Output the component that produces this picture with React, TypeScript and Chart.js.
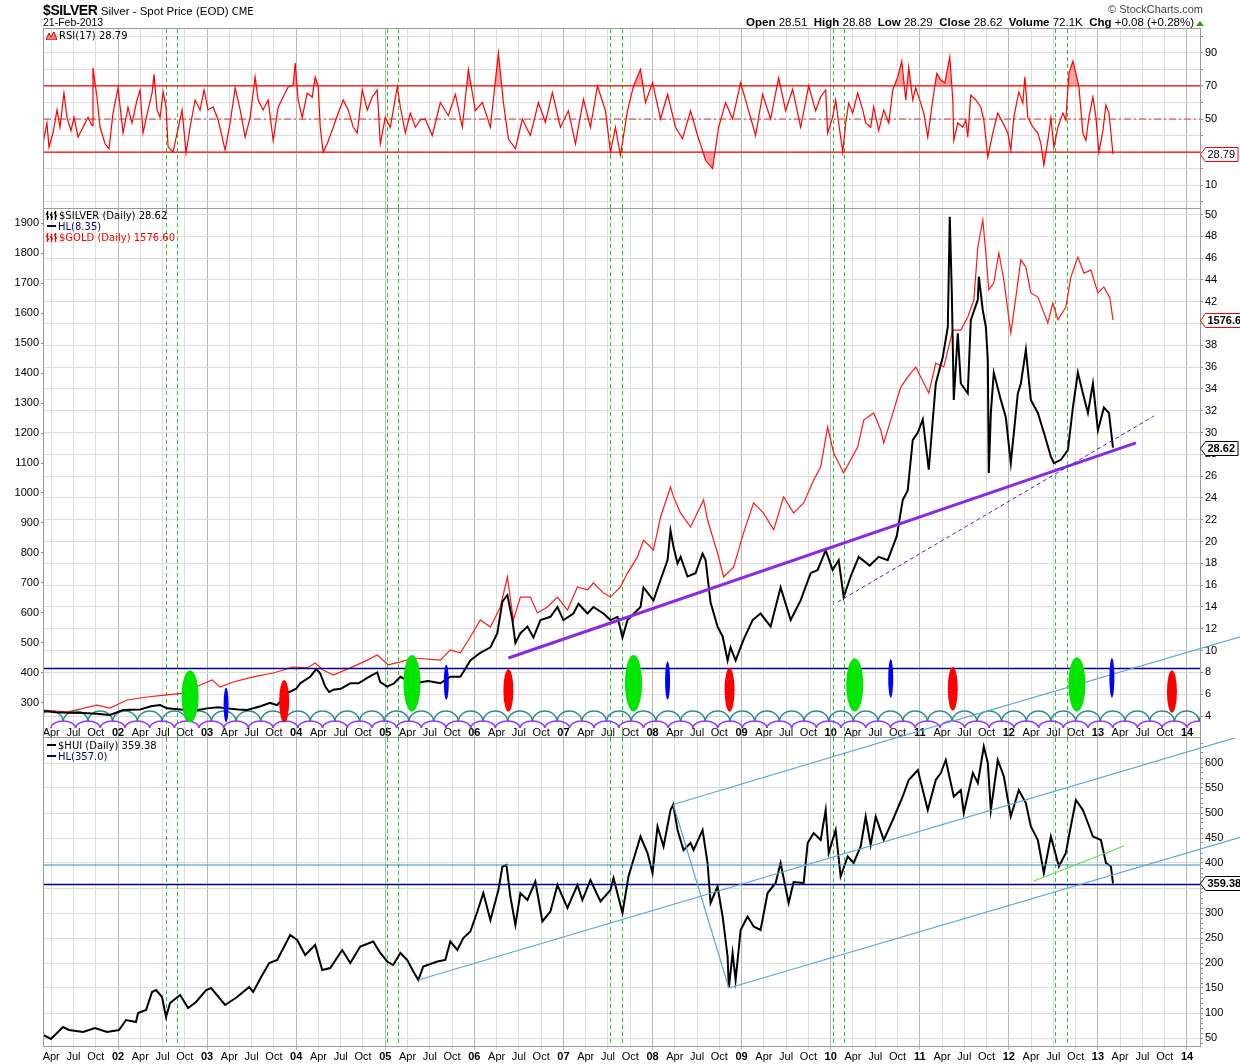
import React, { useEffect, useRef } from 'react';
import { Chart, registerables } from 'chart.js';

Chart.register(...registerables);

type P = [number, number];

// ---------------- axis ranges / tick labels ----------------
const X_MIN = 2001.169;
const X_MAX = 2014.146;
const QUARTER_LABELS = ['', 'Apr', 'Jul', 'Oct'];
const YEAR_LABELS = ['01', '02', '03', '04', '05', '06', '07', '08', '09', '10', '11', '12', '13', '14'];
const RSI_TICKS = [0, 10, 20, 30, 40, 50, 60, 70, 80, 90, 100];
const RSI_LABELS = [10, 30, 50, 70, 90];
const SILVER_TICKS = [4, 6, 8, 10, 12, 14, 16, 18, 20, 22, 24, 26, 28, 30, 32, 34, 36, 38, 40, 42, 44, 46, 48, 50];
const GOLD_TICKS = [300, 400, 500, 600, 700, 800, 900, 1000, 1100, 1200, 1300, 1400, 1500, 1600, 1700, 1800, 1900];
const HUI_LABELS = [50, 100, 150, 200, 250, 300, 350, 400, 450, 500, 550, 600];
const HUI_MINOR = [40, 60, 70, 80, 90, 110, 120, 130, 140, 160, 170, 180, 190, 210, 220, 230, 240, 260, 270, 280, 290, 310, 320, 330, 340, 360, 370, 380, 390, 410, 420, 430, 440, 460, 470, 480, 490, 510, 520, 530, 540, 560, 570, 580, 590, 610, 620, 630, 640];

// ---------------- series (decimal year, value) ----------------
const SILVER: P[] = [
  [2001.157, 4.46], [2001.30, 4.35], [2001.45, 4.30], [2001.607, 4.27], [2001.76, 4.20], [2001.910, 4.10],
  [2002.056, 4.55], [2002.25, 4.60], [2002.37, 4.90], [2002.472, 5.00], [2002.551, 4.70], [2002.70, 4.60],
  [2002.775, 4.55], [2002.90, 4.55], [2003.0, 4.70], [2003.12, 4.80], [2003.225, 4.70], [2003.35, 4.60],
  [2003.449, 4.55], [2003.60, 4.90], [2003.708, 5.20], [2003.787, 5.00], [2003.899, 6.10], [2004.0, 6.50],
  [2004.045, 7.00], [2004.157, 7.60], [2004.225, 8.30], [2004.270, 7.90], [2004.326, 6.70], [2004.37, 6.20],
  [2004.416, 6.40], [2004.50, 6.50], [2004.607, 7.00], [2004.70, 7.00], [2004.798, 7.50], [2004.910, 8.00],
  [2004.944, 7.10], [2005.022, 6.70], [2005.10, 7.00], [2005.169, 7.60], [2005.315, 7.00], [2005.393, 7.10],
  [2005.483, 7.20], [2005.618, 7.00], [2005.730, 7.60], [2005.843, 7.60], [2005.955, 9.10], [2006.067, 9.80],
  [2006.180, 10.30], [2006.258, 11.60], [2006.315, 14.50], [2006.371, 15.10], [2006.427, 12.80], [2006.461, 10.70],
  [2006.517, 11.60], [2006.596, 12.20], [2006.663, 11.20], [2006.742, 12.80], [2006.854, 13.10], [2006.933, 14.00],
  [2007.0, 12.80], [2007.112, 13.40], [2007.169, 14.30], [2007.270, 13.40], [2007.337, 14.00], [2007.449, 13.40],
  [2007.528, 12.80], [2007.607, 13.10], [2007.663, 11.20], [2007.719, 12.80], [2007.865, 14.00], [2007.899, 15.80],
  [2008.011, 14.60], [2008.090, 16.50], [2008.169, 18.30], [2008.202, 21.00], [2008.236, 19.50], [2008.281, 18.00],
  [2008.315, 18.60], [2008.393, 16.80], [2008.483, 17.10], [2008.562, 18.90], [2008.596, 18.30], [2008.652, 14.40],
  [2008.730, 12.20], [2008.787, 11.30], [2008.843, 9.10], [2008.876, 10.30], [2008.933, 9.10], [2009.022, 11.00],
  [2009.124, 12.80], [2009.213, 13.40], [2009.326, 12.20], [2009.438, 15.80], [2009.551, 12.80], [2009.663, 14.60],
  [2009.775, 17.10], [2009.854, 17.40], [2009.944, 19.20], [2010.022, 17.40], [2010.090, 18.30], [2010.146, 14.90],
  [2010.225, 16.80], [2010.315, 18.60], [2010.438, 17.80], [2010.539, 18.60], [2010.640, 18.30], [2010.742, 20.50],
  [2010.809, 23.80], [2010.865, 24.70], [2010.921, 29.30], [2010.978, 30.00], [2011.034, 31.20], [2011.101, 26.60],
  [2011.180, 34.50], [2011.258, 36.90], [2011.315, 39.70], [2011.337, 49.80], [2011.360, 42.80], [2011.382, 33.00],
  [2011.427, 39.10], [2011.461, 34.50], [2011.539, 33.60], [2011.573, 40.30], [2011.652, 42.20], [2011.663, 44.30],
  [2011.708, 41.20], [2011.742, 39.70], [2011.764, 36.70], [2011.775, 26.30], [2011.798, 31.80], [2011.831, 35.50],
  [2011.910, 33.00], [2011.966, 31.40], [2012.022, 27.20], [2012.101, 33.60], [2012.135, 34.50], [2012.191, 37.60],
  [2012.247, 33.00], [2012.326, 31.80], [2012.393, 30.00], [2012.472, 27.80], [2012.506, 27.20], [2012.584, 27.50],
  [2012.663, 28.40], [2012.719, 32.30], [2012.775, 35.50], [2012.831, 33.60], [2012.888, 31.80], [2012.944, 34.50],
  [2013.0, 30.20], [2013.067, 32.30], [2013.124, 31.80], [2013.169, 28.62],
];

const GOLD: P[] = [
  [2001.157, 277], [2001.427, 270], [2001.764, 293], [2001.910, 283], [2002.101, 310], [2002.326, 320],
  [2002.551, 327], [2002.730, 333], [2002.921, 360], [2003.056, 377], [2003.146, 353], [2003.292, 370],
  [2003.517, 387], [2003.742, 400], [2003.966, 420], [2004.124, 417], [2004.213, 433], [2004.303, 410],
  [2004.416, 393], [2004.607, 417], [2004.798, 443], [2004.910, 460], [2005.034, 427], [2005.169, 437],
  [2005.315, 450], [2005.618, 443], [2005.730, 477], [2005.843, 467], [2005.955, 520], [2006.067, 577],
  [2006.180, 553], [2006.292, 620], [2006.371, 720], [2006.438, 577], [2006.517, 653], [2006.629, 653],
  [2006.708, 600], [2006.820, 620], [2006.933, 653], [2007.045, 610], [2007.157, 687], [2007.270, 677],
  [2007.337, 700], [2007.449, 667], [2007.528, 653], [2007.640, 687], [2007.719, 733], [2007.831, 787],
  [2007.899, 843], [2008.011, 810], [2008.090, 920], [2008.202, 1020], [2008.236, 987], [2008.315, 933],
  [2008.427, 887], [2008.573, 977], [2008.618, 910], [2008.730, 800], [2008.798, 720], [2008.910, 753],
  [2009.022, 867], [2009.135, 967], [2009.247, 933], [2009.360, 877], [2009.472, 987], [2009.584, 933],
  [2009.697, 967], [2009.809, 1043], [2009.888, 1087], [2009.966, 1220], [2010.034, 1133], [2010.146, 1067],
  [2010.303, 1153], [2010.371, 1243], [2010.483, 1267], [2010.562, 1210], [2010.596, 1167], [2010.674, 1243],
  [2010.787, 1353], [2010.865, 1387], [2010.955, 1420], [2011.011, 1387], [2011.101, 1333], [2011.180, 1433],
  [2011.270, 1420], [2011.371, 1543], [2011.461, 1543], [2011.539, 1587], [2011.607, 1643], [2011.652, 1820],
  [2011.708, 1910], [2011.742, 1800], [2011.775, 1677], [2011.831, 1700], [2011.888, 1800], [2011.944, 1710],
  [2012.022, 1533], [2012.079, 1653], [2012.135, 1777], [2012.191, 1753], [2012.247, 1667], [2012.326, 1653],
  [2012.438, 1567], [2012.494, 1633], [2012.551, 1577], [2012.640, 1620], [2012.697, 1720], [2012.775, 1787],
  [2012.843, 1733], [2012.921, 1743], [2013.0, 1667], [2013.067, 1687], [2013.135, 1650], [2013.169, 1576.6],
];

const HUI: P[] = [
  [2001.163, 56], [2001.247, 48], [2001.382, 72], [2001.449, 66], [2001.607, 62], [2001.742, 70],
  [2001.876, 62], [2002.011, 66], [2002.090, 86], [2002.202, 82], [2002.225, 100], [2002.315, 106],
  [2002.382, 142], [2002.427, 146], [2002.494, 132], [2002.539, 92], [2002.584, 120], [2002.697, 136],
  [2002.787, 110], [2002.876, 122], [2002.989, 146], [2003.045, 150], [2003.202, 116], [2003.337, 132],
  [2003.472, 152], [2003.517, 142], [2003.607, 172], [2003.697, 200], [2003.787, 206], [2003.933, 256],
  [2004.011, 246], [2004.101, 216], [2004.213, 236], [2004.292, 186], [2004.382, 190], [2004.517, 226],
  [2004.607, 200], [2004.719, 233], [2004.865, 243], [2004.944, 220], [2005.022, 203], [2005.090, 196],
  [2005.169, 220], [2005.247, 206], [2005.315, 183], [2005.371, 166], [2005.427, 193], [2005.584, 203],
  [2005.674, 206], [2005.730, 243], [2005.809, 226], [2005.876, 250], [2005.955, 263], [2006.034, 303],
  [2006.101, 340], [2006.180, 286], [2006.270, 346], [2006.315, 393], [2006.360, 396], [2006.404, 333],
  [2006.461, 276], [2006.517, 340], [2006.596, 326], [2006.685, 363], [2006.764, 283], [2006.854, 303],
  [2006.933, 356], [2007.045, 310], [2007.157, 356], [2007.213, 326], [2007.303, 366], [2007.416, 323],
  [2007.528, 346], [2007.562, 370], [2007.663, 300], [2007.730, 373], [2007.775, 400], [2007.865, 453],
  [2007.944, 420], [2008.0, 380], [2008.056, 473], [2008.124, 433], [2008.202, 506], [2008.233, 517],
  [2008.281, 466], [2008.348, 426], [2008.427, 440], [2008.461, 426], [2008.562, 466], [2008.618, 400],
  [2008.652, 320], [2008.730, 353], [2008.787, 293], [2008.843, 213], [2008.857, 150], [2008.899, 220],
  [2008.933, 166], [2008.989, 266], [2009.067, 293], [2009.135, 273], [2009.213, 266], [2009.292, 340],
  [2009.382, 360], [2009.438, 400], [2009.528, 320], [2009.584, 362], [2009.697, 360], [2009.742, 440],
  [2009.809, 460], [2009.888, 446], [2009.944, 506], [2009.978, 420], [2010.056, 466], [2010.112, 373],
  [2010.191, 413], [2010.258, 400], [2010.337, 433], [2010.393, 493], [2010.449, 436], [2010.506, 493],
  [2010.596, 446], [2010.697, 486], [2010.809, 533], [2010.876, 566], [2010.978, 586], [2011.090, 506],
  [2011.180, 566], [2011.236, 580], [2011.292, 606], [2011.382, 533], [2011.461, 546], [2011.494, 500],
  [2011.596, 580], [2011.652, 560], [2011.719, 633], [2011.764, 600], [2011.798, 506], [2011.876, 606],
  [2011.944, 573], [2012.022, 493], [2012.112, 546], [2012.191, 520], [2012.247, 473], [2012.326, 446],
  [2012.393, 380], [2012.472, 453], [2012.562, 393], [2012.640, 420], [2012.674, 453], [2012.753, 526],
  [2012.831, 506], [2012.888, 480], [2012.944, 453], [2013.034, 446], [2013.090, 400], [2013.146, 393],
  [2013.169, 359.38],
];

const RSI: P[] = [
  [2001.157, 35], [2001.202, 47.6], [2001.225, 33], [2001.270, 41.5], [2001.315, 55.5], [2001.348, 45],
  [2001.393, 65.7], [2001.427, 51], [2001.472, 43], [2001.506, 51], [2001.551, 39], [2001.607, 45],
  [2001.663, 51], [2001.708, 46], [2001.719, 81], [2001.764, 63], [2001.798, 45], [2001.854, 35],
  [2001.899, 32], [2001.944, 53.6], [2002.0, 68.8], [2002.056, 41.5], [2002.112, 57], [2002.157, 47.6],
  [2002.213, 61.5], [2002.247, 67.6], [2002.281, 41.5], [2002.337, 55.5], [2002.382, 65.7], [2002.404, 77],
  [2002.438, 55.5], [2002.472, 51], [2002.506, 66.4], [2002.539, 57.3], [2002.562, 33], [2002.618, 30],
  [2002.663, 41.5], [2002.719, 55.5], [2002.764, 29.4], [2002.809, 45], [2002.865, 61.5], [2002.921, 55.5],
  [2002.966, 67.6], [2003.011, 55.5], [2003.067, 57.3], [2003.124, 49.4], [2003.202, 31.2], [2003.258, 47.6],
  [2003.315, 68.8], [2003.371, 55.5], [2003.427, 39], [2003.483, 51], [2003.539, 75.5], [2003.573, 61.5],
  [2003.629, 55.5], [2003.685, 61.5], [2003.742, 37], [2003.798, 57.3], [2003.854, 63.3], [2003.910, 69.4],
  [2003.966, 70.6], [2003.989, 83.9], [2004.022, 61.5], [2004.067, 51], [2004.124, 65.7], [2004.180, 63.3],
  [2004.213, 75.5], [2004.247, 69.4], [2004.270, 45], [2004.303, 30], [2004.348, 35], [2004.416, 45],
  [2004.472, 53.6], [2004.528, 61.5], [2004.584, 55.5], [2004.640, 45], [2004.685, 41.5], [2004.742, 67.6],
  [2004.798, 55.5], [2004.854, 63.3], [2004.910, 67.6], [2004.944, 35], [2005.0, 51], [2005.056, 45],
  [2005.135, 69.4], [2005.169, 57.3], [2005.225, 41.5], [2005.281, 53.6], [2005.337, 45], [2005.393, 49.4],
  [2005.449, 50], [2005.528, 40], [2005.618, 60], [2005.708, 52], [2005.787, 65], [2005.865, 45],
  [2005.933, 80], [2006.011, 55], [2006.090, 60], [2006.180, 45], [2006.270, 90], [2006.326, 60],
  [2006.382, 38], [2006.461, 32], [2006.539, 50], [2006.629, 40], [2006.719, 60], [2006.798, 48],
  [2006.876, 66], [2006.966, 45], [2007.056, 55], [2007.135, 35], [2007.225, 62], [2007.303, 45],
  [2007.382, 70], [2007.472, 55], [2007.528, 30], [2007.584, 45], [2007.640, 28], [2007.719, 55],
  [2007.787, 70], [2007.865, 80], [2007.921, 60], [2008.0, 72], [2008.090, 50], [2008.169, 65],
  [2008.258, 45], [2008.337, 38], [2008.427, 55], [2008.506, 40], [2008.596, 25], [2008.674, 20],
  [2008.742, 45], [2008.820, 60], [2008.899, 50], [2008.989, 72], [2009.079, 55], [2009.157, 40],
  [2009.236, 65], [2009.326, 50], [2009.416, 75], [2009.494, 55], [2009.573, 68], [2009.663, 45],
  [2009.753, 70], [2009.831, 55], [2009.888, 63.5], [2009.944, 67.6], [2009.966, 41.5], [2010.022, 51],
  [2010.056, 61.5], [2010.090, 47.6], [2010.135, 30], [2010.169, 47.6], [2010.202, 59.6], [2010.247, 53.6],
  [2010.303, 65.7], [2010.360, 55.5], [2010.393, 47.6], [2010.449, 45], [2010.483, 57.3], [2010.539, 43],
  [2010.596, 55.5], [2010.652, 47.6], [2010.697, 67.6], [2010.753, 75.5], [2010.798, 85], [2010.843, 61.5],
  [2010.876, 81.5], [2010.921, 61.5], [2010.955, 68.8], [2011.011, 59.6], [2011.045, 53.6], [2011.090, 39],
  [2011.146, 61.5], [2011.191, 77.6], [2011.236, 73.6], [2011.281, 71.8], [2011.337, 87.6], [2011.371, 61.5],
  [2011.382, 37], [2011.427, 47.6], [2011.483, 45], [2011.517, 49.4], [2011.539, 39], [2011.573, 64.5],
  [2011.629, 61.5], [2011.685, 57.3], [2011.719, 49.4], [2011.764, 27], [2011.820, 41.5], [2011.876, 53.6],
  [2011.933, 47.6], [2011.989, 41.5], [2012.022, 31.2], [2012.056, 51], [2012.112, 66.4], [2012.157, 59.6],
  [2012.180, 75.5], [2012.213, 51], [2012.270, 45], [2012.326, 41.5], [2012.360, 35], [2012.393, 22],
  [2012.438, 37], [2012.472, 50.6], [2012.506, 33], [2012.551, 45], [2012.607, 53.6], [2012.640, 49.4],
  [2012.674, 77.6], [2012.719, 85], [2012.753, 77.6], [2012.787, 69.4], [2012.831, 41.5], [2012.865, 37],
  [2012.899, 51], [2012.944, 63.3], [2012.978, 51], [2013.011, 30], [2013.056, 43], [2013.090, 58.5],
  [2013.124, 53.6], [2013.169, 28.79],
];

// ---------------- annotations (decimal year, value) ----------------
const GREEN_LINE_DATES = [2002.539, 2002.663, 2005.022, 2005.146, 2007.528, 2007.663, 2010.022, 2010.146, 2012.517, 2012.652];
const RSI_LEVELS = [70, 30];
const RSI_MID = 50;
const SILVER_HL = 8.35;
const HUI_HL = 357;
const HUI_LEVEL = 396;
const PURPLE_TREND: P[] = [[2006.382, 9.32], [2013.427, 29.05]];
const BLUE_DASH_TREND: P[] = [[2010.079, 14.46], [2013.629, 31.52]];
const CHANNEL_IN_SILVER: P[] = [[2010.724, 1.98], [2014.607, 11.28]];
const HUI_CH1: P[] = [[2005.371, 166], [2014.607, 654]];
const HUI_CH2: P[] = [[2008.233, 517], [2014.607, 857]];
const HUI_CH3: P[] = [[2008.857, 150], [2014.607, 452]];
const HUI_LINK: P[] = [[2008.233, 517], [2008.857, 150]];
const HUI_GREEN: P[] = [[2012.281, 364], [2013.292, 434]];
// markers: [date, top, bottom] in silver units
const GREEN_MARKERS: [number, number, number][] = [[2002.809, 8.2, 3.4], [2005.300, 9.6, 4.4], [2007.787, 9.6, 4.4], [2010.270, 9.3, 4.4], [2012.764, 9.4, 4.4]];
const RED_MARKERS: [number, number, number][] = [[2003.865, 7.3, 3.4], [2006.382, 8.3, 4.4], [2008.865, 8.4, 4.4], [2011.371, 8.5, 4.5], [2013.831, 8.2, 4.3]];
const BLUE_MARKERS: [number, number, number][] = [[2003.213, 6.6, 3.45], [2005.685, 8.7, 5.5], [2008.169, 9.0, 5.5], [2010.674, 9.2, 5.7], [2013.157, 9.3, 5.7]];
const ARC_START = 2001.385;
const ARC_PERIOD = 0.2772;

const FONT = "'Liberation Sans', Arial, Helvetica, sans-serif";
const LFONT = "'DejaVu Sans', Verdana, sans-serif";

Chart.defaults.font.family = FONT;
Chart.defaults.font.size = 11;
Chart.defaults.color = '#000';

// ---------------- helpers ----------------
const pts = (arr: P[]) => arr.map(([x, y]) => ({ x, y }));
const isYear = (v: any) => typeof v === 'number' && Math.abs(v - Math.round(v)) < 1e-6;

function quarterTicks() {
  const out: { value: number }[] = [];
  for (let i = 0; i < YEAR_LABELS.length; i++) {
    for (let q = 0; q < 4; q++) {
      const v = 2001 + i + q / 4;
      if (v >= X_MIN && v <= X_MAX) out.push({ value: v });
    }
  }
  return out;
}
function xLabel(v: number) {
  if (isYear(v)) return YEAR_LABELS[Math.round(v) - 2001];
  const q = Math.round((v - Math.floor(v)) * 4);
  return QUARTER_LABELS[q];
}
const gridColor = (c: any) => (isYear(c.tick?.value) ? '#b6b6b6' : '#dedede');

function xAxis(kind: 'none' | 'inner' | 'bottom') {
  return {
    type: 'linear',
    min: X_MIN,
    max: X_MAX,
    afterBuildTicks: (s: any) => { s.ticks = quarterTicks(); },
    afterFit: (s: any) => {
      s.height = kind === 'none' ? 1 : kind === 'inner' ? 15 : 17;
      s.paddingLeft = 0; s.paddingRight = 0; s.paddingTop = 0; s.paddingBottom = 0;
    },
    grid: { color: gridColor, tickColor: gridColor, drawTicks: kind !== 'none', tickLength: kind === 'inner' ? 15 : 3, lineWidth: 1 },
    border: { display: false },
    ticks: {
      display: kind !== 'none',
      autoSkip: false, maxRotation: 0, minRotation: 0,
      padding: kind === 'inner' ? -12 : 0,
      color: '#000',
      font: (c: any) => ({ family: FONT, size: 11, weight: isYear(c.tick?.value) ? 'bold' : 'normal' }),
      callback: (v: any) => xLabel(Number(v)),
    },
  };
}

function yAxis(o: { position: 'left' | 'right'; min: number; max: number; ticks: number[]; labels: number[]; grid: boolean; major?: number[] }) {
  const labelSet = new Set(o.labels);
  const majorSet = new Set(o.major ?? o.ticks);
  return {
    type: 'linear', position: o.position, min: o.min, max: o.max,
    afterBuildTicks: (s: any) => { s.ticks = o.ticks.map((value) => ({ value })); },
    afterFit: (s: any) => { s.width = o.position === 'left' ? 44 : 40; s.paddingTop = 0; s.paddingBottom = 0; },
    border: { display: false },
    grid: {
      drawOnChartArea: o.grid,
      color: (c: any) => (majorSet.has(c.tick?.value) ? '#dcdcdc' : 'rgba(0,0,0,0)'),
      tickColor: '#8c8c8c', tickLength: 3,
    },
    ticks: { autoSkip: false, padding: 2, color: '#000', font: { family: FONT, size: 11 }, callback: (v: any) => (labelSet.has(Number(v)) ? String(v) : '') },
  };
}

function hline(v: number, color: string, width: number, yAxisID: string, order: number, dash: number[] = []) {
  return { data: [{ x: X_MIN, y: v }, { x: X_MAX, y: v }], borderColor: color, borderWidth: width, borderDash: dash, pointRadius: 0, yAxisID, order, fill: false };
}
function seg(arr: P[], color: string, width: number, yAxisID: string, order: number, extra: any = {}) {
  return { data: pts(arr), borderColor: color, borderWidth: width, pointRadius: 0, yAxisID, order, fill: false, ...extra };
}

function panelPlugin(extendToCanvasBottom: boolean) {
  return {
    id: 'panel',
    beforeDatasetsDraw(chart: any) {
      const { ctx, chartArea: a, scales } = chart;
      const bottom = extendToCanvasBottom ? chart.height : a.bottom;
      ctx.save();
      ctx.strokeStyle = '#22cc22';
      ctx.lineWidth = 1;
      ctx.setLineDash([4, 3]);
      for (const t of GREEN_LINE_DATES) {
        const px = Math.round(scales.x.getPixelForValue(t)) + 0.5;
        ctx.beginPath(); ctx.moveTo(px, a.top); ctx.lineTo(px, bottom); ctx.stroke();
      }
      ctx.setLineDash([]);
      ctx.strokeStyle = '#9a9a9a';
      ctx.strokeRect(a.left - 0.5, a.top - 0.5, a.right - a.left + 1, bottom - a.top);
      ctx.restore();
    },
  };
}

function drawTag(chart: any, scaleId: string, value: number, text: string, border: string, bold: boolean) {
  const { ctx, chartArea: a } = chart;
  const y = Math.round(chart.scales[scaleId].getPixelForValue(value)) + 0.5;
  const x0 = a.right + 0.5;
  ctx.save();
  ctx.font = `${bold ? 'bold ' : ''}11px ${FONT}`;
  const w = ctx.measureText(text).width + 5;
  ctx.beginPath();
  ctx.moveTo(x0, y); ctx.lineTo(x0 + 5, y - 7); ctx.lineTo(x0 + 5 + w, y - 7);
  ctx.lineTo(x0 + 5 + w, y + 7); ctx.lineTo(x0 + 5, y + 7); ctx.closePath();
  ctx.fillStyle = '#fff'; ctx.fill();
  ctx.strokeStyle = border; ctx.lineWidth = 1; ctx.stroke();
  ctx.fillStyle = '#000'; ctx.textBaseline = 'middle'; ctx.textAlign = 'left';
  ctx.fillText(text, x0 + 7, y + 0.5);
  ctx.restore();
}

function tagPlugin(tags: [string, number, string, string, boolean][]) {
  return { id: 'tags', afterDraw(chart: any) { for (const t of tags) drawTag(chart, t[0], t[1], t[2], t[3], t[4]); } };
}

const decoPlugin = {
  id: 'deco',
  beforeDatasetsDraw(chart: any) {
    const { ctx, chartArea: a, scales } = chart;
    const x = scales.x, y = scales.ys;
    ctx.save();
    ctx.beginPath(); ctx.rect(a.left, 0, a.right - a.left, chart.height); ctx.clip();
    const arcs: [number, number, number, string][] = [
      [ARC_START, 3.45, 4.46, '#2a8c8c'],
      [ARC_START + ARC_PERIOD / 2, 2.9, 3.54, '#9933ff'],
    ];
    for (const [start, base, top, color] of arcs) {
      ctx.strokeStyle = color; ctx.lineWidth = 1.5;
      const yb = y.getPixelForValue(base), yt = y.getPixelForValue(top);
      for (let k = -1; start + k * ARC_PERIOD < X_MAX + ARC_PERIOD; k++) {
        const t = start + k * ARC_PERIOD;
        const x1 = x.getPixelForValue(t), x2 = x.getPixelForValue(t + ARC_PERIOD);
        ctx.beginPath(); ctx.ellipse((x1 + x2) / 2, yb, (x2 - x1) / 2, yb - yt, 0, Math.PI, 2 * Math.PI); ctx.stroke();
      }
    }
    ctx.restore();
  },
  afterDatasetsDraw(chart: any) {
    const { ctx, scales } = chart;
    const x = scales.x, y = scales.ys;
    const sets: [[number, number, number][], string, number][] = [
      [GREEN_MARKERS, '#00e600', 17], [RED_MARKERS, '#ff0000', 10], [BLUE_MARKERS, '#0000ff', 5],
    ];
    ctx.save();
    for (const [list, color, w] of sets) {
      ctx.fillStyle = color;
      for (const [t, top, bot] of list) {
        const cx = x.getPixelForValue(t), yt = y.getPixelForValue(top), yb = y.getPixelForValue(bot);
        ctx.beginPath(); ctx.ellipse(cx, (yt + yb) / 2, w / 2, (yb - yt) / 2, 0, 0, 2 * Math.PI); ctx.fill();
      }
    }
    ctx.restore();
  },
};

const baseOptions = (padding: any, scales: any) => ({
  animation: false, responsive: false, events: [],
  layout: { padding, autoPadding: false },
  plugins: { legend: { display: false }, tooltip: { enabled: false } },
  elements: { line: { tension: 0 } },
  scales,
});

// ---------------- legend icons ----------------
const BarIcon = ({ color }: { color: string }) => (
  <svg width="11" height="9" style={{ marginRight: 2, verticalAlign: '-1px' }}>
    <path d="M1.5 0v9M0 3h1.5M1.5 6h1.5M5.5 1v8M4 4h1.5M5.5 6h1.5M9.5 0v9M8 2h1.5M9.5 5h1.5" stroke={color} strokeWidth="1.4" fill="none" />
  </svg>
);
const LineIcon = ({ color }: { color: string }) => (
  <span style={{ display: 'inline-block', width: 9, height: 2, background: color, margin: '0 2px 3px 1px' }} />
);
const RsiIcon = () => (
  <svg width="11" height="9" style={{ marginRight: 2, verticalAlign: '-1px' }}>
    <path d="M0 9L3 2L5 6L8 1L11 9Z" fill="#ff8080" stroke="#e00000" strokeWidth="1" />
  </svg>
);

const legendStyle: any = { position: 'absolute', left: 46, fontFamily: LFONT, fontSize: 10, lineHeight: '11px', whiteSpace: 'nowrap', zIndex: 5 };

export default function App() {
  const rsiRef = useRef<HTMLCanvasElement>(null);
  const mainRef = useRef<HTMLCanvasElement>(null);
  const huiRef = useRef<HTMLCanvasElement>(null);

  useEffect(() => {
    const charts: Chart[] = [];

    charts.push(new Chart(rsiRef.current as any, {
      type: 'line',
      data: {
        datasets: [
          { data: pts(RSI), borderColor: '#ff0000', borderWidth: 1.2, pointRadius: 0, order: 1, fill: { target: { value: RSI_LEVELS[0] }, above: 'rgba(255,70,70,0.5)', below: 'rgba(0,0,0,0)' } },
          { data: pts(RSI), borderColor: 'rgba(0,0,0,0)', borderWidth: 0, pointRadius: 0, order: 2, fill: { target: { value: RSI_LEVELS[1] }, above: 'rgba(0,0,0,0)', below: 'rgba(255,70,70,0.5)' } },
          hline(RSI_LEVELS[0], '#ff0000', 1.2, 'y', 10),
          hline(RSI_LEVELS[1], '#ff0000', 1.2, 'y', 10),
          hline(RSI_MID, '#e03030', 1, 'y', 10, [7, 3, 2, 3]),
        ] as any,
      },
      options: baseOptions({ left: 44, top: 29, right: 0, bottom: 0 }, {
        x: xAxis('none'),
        y: yAxis({ position: 'right', min: -4.5, max: 104.5, ticks: RSI_TICKS, labels: RSI_LABELS, grid: true }),
      }) as any,
      plugins: [panelPlugin(false), tagPlugin([['y', 28.79, '28.79', '#ff0000', false]])],
    }));

    charts.push(new Chart(mainRef.current as any, {
      type: 'line',
      data: {
        datasets: [
          seg(GOLD, '#ff1a1a', 1.2, 'yg', 6),
          seg(SILVER, '#000000', 2, 'ys', 5),
          hline(SILVER_HL, '#000080', 1.5, 'ys', 4),
          seg(PURPLE_TREND, '#8a2be2', 3, 'ys', 3),
          seg(BLUE_DASH_TREND, '#2b2bff', 1, 'ys', 2, { borderDash: [4, 3] }),
          seg(CHANNEL_IN_SILVER, '#5aa6d8', 1.2, 'ys', 1, { clip: false }),
        ] as any,
      },
      options: baseOptions({ left: 0, top: 9, right: 0, bottom: 0 }, {
        x: xAxis('inner'),
        ys: yAxis({ position: 'right', min: 3.358, max: 50.51, ticks: SILVER_TICKS, labels: SILVER_TICKS, grid: true }),
        yg: yAxis({ position: 'left', min: 233.3, max: 1946.7, ticks: GOLD_TICKS, labels: GOLD_TICKS, grid: false }),
      }) as any,
      plugins: [panelPlugin(true), decoPlugin, tagPlugin([['yg', 1576.6, '1576.60', '#ff0000', true], ['ys', 28.62, '28.62', '#000000', true]])],
    }));

    charts.push(new Chart(huiRef.current as any, {
      type: 'line',
      data: {
        datasets: [
          seg(HUI, '#000000', 2, 'y', 5),
          hline(HUI_HL, '#000080', 1.5, 'y', 4),
          hline(HUI_LEVEL, '#3a8cc4', 1.2, 'y', 4),
          seg(HUI_CH1, '#5aa6d8', 1.2, 'y', 2, { clip: false }),
          seg(HUI_CH2, '#5aa6d8', 1.2, 'y', 2, { clip: false }),
          seg(HUI_CH3, '#5aa6d8', 1.2, 'y', 2, { clip: false }),
          seg(HUI_LINK, '#5aa6d8', 1.2, 'y', 2, { clip: false }),
          seg(HUI_GREEN, '#66dd55', 1.2, 'y', 2),
        ] as any,
      },
      options: baseOptions({ left: 44, top: 0, right: 0, bottom: 0 }, {
        x: xAxis('bottom'),
        y: yAxis({ position: 'right', min: 32, max: 650, ticks: [...HUI_LABELS, ...HUI_MINOR].sort((a, b) => a - b), labels: HUI_LABELS, grid: true, major: HUI_LABELS }),
      }) as any,
      plugins: [panelPlugin(false), tagPlugin([['y', 359.38, '359.38', '#000000', true]])],
    }));

    return () => { charts.forEach((c) => c.destroy()); };
  }, []);

  return (
    <div style={{ position: 'absolute', left: 0, top: 0, width: 1240, height: 1064, background: '#fff', overflow: 'hidden' }}>
      <canvas ref={rsiRef} width={1240} height={210} style={{ position: 'absolute', left: 0, top: 0 }} />
      <canvas ref={mainRef} width={1240} height={538} style={{ position: 'absolute', left: 0, top: 200 }} />
      <canvas ref={huiRef} width={1240} height={326} style={{ position: 'absolute', left: 0, top: 738 }} />

      <div style={{ position: 'absolute', left: 43, top: 1, whiteSpace: 'nowrap', fontFamily: FONT, zIndex: 5 }}>
        <span style={{ fontWeight: 'bold', fontSize: 14, letterSpacing: -0.4 }}>$SILVER</span>
        <span style={{ fontSize: 11.5 }}> Silver - Spot Price (EOD) </span>
        <span style={{ fontSize: 10, fontFamily: LFONT }}>CME</span>
      </div>
      <div style={{ position: 'absolute', left: 43, top: 16, fontFamily: FONT, fontSize: 10.5, zIndex: 5 }}>21-Feb-2013</div>
      <div style={{ position: 'absolute', right: 37, top: 3, fontFamily: FONT, fontSize: 11, color: '#444', zIndex: 5 }}>© StockCharts.com</div>
      <div style={{ position: 'absolute', right: 46, top: 16, fontFamily: FONT, fontSize: 11.5, whiteSpace: 'nowrap', zIndex: 5 }}>
        <b>Open</b> 28.51&nbsp; <b>High</b> 28.88&nbsp; <b>Low</b> 28.29&nbsp; <b>Close</b> 28.62&nbsp; <b>Volume</b> 72.1K&nbsp; <b>Chg</b> +0.08 (+0.28%)
      </div>
      <div style={{ position: 'absolute', left: 1196, top: 21, width: 0, height: 0, borderLeft: '4px solid transparent', borderRight: '4px solid transparent', borderBottom: '5px solid #3c8c3c', zIndex: 5 }} />

      <div style={{ ...legendStyle, top: 30 }}>
        <div><RsiIcon />RSI(17) 28.79</div>
      </div>
      <div style={{ ...legendStyle, top: 210 }}>
        <div><BarIcon color="#000" />$SILVER (Daily) 28.62</div>
        <div style={{ color: '#000080' }}><LineIcon color="#000080" />HL(8.35)</div>
        <div style={{ color: '#ff0000' }}><BarIcon color="#ff0000" />$GOLD (Daily) 1576.60</div>
      </div>
      <div style={{ ...legendStyle, top: 740 }}>
        <div><LineIcon color="#000" />$HUI (Daily) 359.38</div>
        <div style={{ color: '#000080' }}><LineIcon color="#000080" />HL(357.0)</div>
      </div>
    </div>
  );
}
